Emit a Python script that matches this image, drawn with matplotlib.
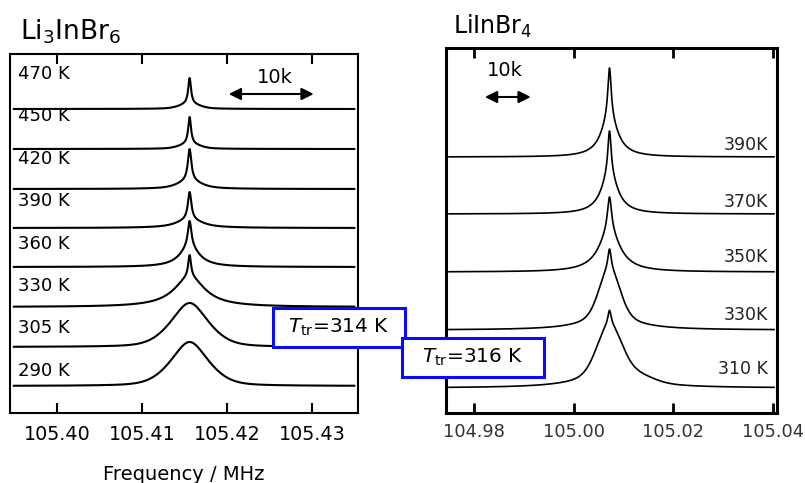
import numpy as np
import matplotlib
matplotlib.use("Agg")
import matplotlib.pyplot as plt
from matplotlib.patches import Rectangle

# ── data: line-shape parameters ──────────────────────────────────────────────
# Li3InBr6 (left panel)
left_labels = ["470 K", "450 K", "420 K", "390 K", "360 K", "330 K", "305 K", "290 K"]
left_offset = [304, 264, 224, 185, 146, 106, 66, 27]
left_center = 105.4156
left_spike_h = [26, 27, 32, 28, 26, 22, 0, 0]
left_spike_w = [0.0002, 0.0002, 0.00025, 0.00025, 0.00025, 0.0002, 0.0002, 0.0002]
left_gauss_h = [4, 4, 3, 3, 0, 0, 24, 24]
left_gauss_w = [0.0011, 0.0011, 0.0012, 0.0012, 0.001, 0.001, 0.0024, 0.0024]
left_wing_h = [1, 1, 5, 5, 20, 30, 20, 20]
left_wing_w = [0.003, 0.003, 0.002, 0.0025, 0.0014, 0.0022, 0.0022, 0.0022]
left_range = (105.3948, 105.4351)
left_ticks = [105.40, 105.41, 105.42, 105.43]

# LiInBr4 (right panel)
right_labels = ["390K", "370K", "350K", "330K", "310 K"]
right_offset = [256, 199, 141, 83, 25]
right_center = 105.0072
right_spike_h = [50, 44, 35, 21, 15]
right_spike_w = [0.0004, 0.0004, 0.0005, 0.0004, 0.0004]
right_core_h = [39, 39, 40, 0, 0]
right_core_w = [0.002, 0.002, 0.0026, 0.002, 0.002]
right_gauss_h = [0, 0, 0, 40, 42]
right_gauss_w = [0.002, 0.002, 0.002, 0.002, 0.0024]
right_wing_h = [0, 0, 0, 20, 20]
right_wing_w = [0.005, 0.005, 0.005, 0.005, 0.006]
right_shoulder_h = [0, 0, 0, 0, 5]
right_shoulder_shift = 0.006
right_shoulder_w = 0.003
right_range = (104.975, 105.0402)
right_ticks = [104.98, 105.00, 105.02, 105.04]


def lorentz(x, c, h, g):
    return h * g ** 2 / ((x - c) ** 2 + g ** 2)


def gauss(x, c, h, s):
    return h * np.exp(-0.5 * ((x - c) / s) ** 2)


fig = plt.figure(figsize=(8.05, 4.83), dpi=100, facecolor="white")

# ── left panel ──────────────────────────────────────────────────────────────
axL = fig.add_axes([10 / 805, 1 - 413 / 483, 348 / 805, 359 / 483])
x = np.linspace(*left_range, 1500)
for i in range(len(left_labels)):
    y = (left_offset[i]
         + lorentz(x, left_center, left_spike_h[i], left_spike_w[i])
         + gauss(x, left_center, left_gauss_h[i], left_gauss_w[i])
         + lorentz(x, left_center, left_wing_h[i], left_wing_w[i]))
    axL.plot(x, y, color="black", lw=1.5, solid_capstyle="butt")
    axL.text(0.023, 339 - i * 42.4, left_labels[i], transform=axL.get_yaxis_transform(),
             ha="left", va="center", fontsize=13)

axL.set_xlim(105.39447, 105.43541)
axL.set_ylim(0, 359)
axL.set_xticks(left_ticks)
axL.set_xticklabels([f"{t:.2f}" for t in left_ticks])
axL.set_yticks([])
axL.tick_params(axis="x", direction="in", top=True, length=7.5, width=1.5,
                labelsize=13.8, pad=8.5)
for sp in axL.spines.values():
    sp.set_linewidth(1.5)
axL.annotate("", xy=(105.4302, 319), xytext=(105.4202, 319),
             arrowprops=dict(arrowstyle="<|-|>,head_length=0.6,head_width=0.3",
                             color="black", lw=1.5, shrinkA=0, shrinkB=0,
                             mutation_scale=12))
axL.text(105.42565, 335.5, "10k", ha="center", va="center", fontsize=14)

# ── right panel ─────────────────────────────────────────────────────────────
axR = fig.add_axes([446 / 805, 1 - 413 / 483, 331 / 805, 365 / 483])
x = np.linspace(*right_range, 1500)
right_label_y = [268, 211, 156, 98, 44]
for i in range(len(right_labels)):
    y = (right_offset[i]
         + lorentz(x, right_center, right_spike_h[i], right_spike_w[i])
         + lorentz(x, right_center, right_core_h[i], right_core_w[i])
         + gauss(x, right_center, right_gauss_h[i], right_gauss_w[i])
         + lorentz(x, right_center, right_wing_h[i], right_wing_w[i])
         + gauss(x, right_center + right_shoulder_shift, right_shoulder_h[i],
                 right_shoulder_w))
    axR.plot(x, y, color="black", lw=1.2)
    axR.text(0.973, right_label_y[i], right_labels[i], transform=axR.get_yaxis_transform(),
             ha="right", va="center", fontsize=12.5, color="#222222")

axR.set_xlim(104.9744, 105.0408)
axR.set_ylim(0, 365)
axR.set_xticks(right_ticks)
axR.set_xticklabels([f"{t:.2f}" for t in right_ticks])
axR.set_yticks([])
axR.tick_params(axis="x", direction="in", top=True, length=7, width=2,
                labelsize=12.8, labelcolor="#333333", pad=7.5)
for sp in axR.spines.values():
    sp.set_linewidth(2.2)
axR.annotate("", xy=(104.9914, 316), xytext=(104.9822, 316),
             arrowprops=dict(arrowstyle="<|-|>,head_length=0.6,head_width=0.3",
                             color="black", lw=1.5, shrinkA=0, shrinkB=0,
                             mutation_scale=12))
axR.text(104.9862, 342.5, "10k", ha="center", va="center", fontsize=14)

# ── titles, axis label ──────────────────────────────────────────────────────
fig.text(20 / 805, 1 - 40 / 483, "Li$_3$InBr$_6$", fontsize=19, va="baseline")
fig.text(453 / 805, 1 - 34 / 483, "LiInBr$_4$", fontsize=17, va="baseline")
fig.text(184 / 805, 3 / 483, "Frequency / MHz", fontsize=14, ha="center", va="baseline")

# ── transition temperature boxes ────────────────────────────────────────────
blue = "#0a0aff"
boxes = [((273, 308, 405, 347), "$T_{\\mathrm{tr}}$=314 K"),
         ((402, 338, 544, 377), "$T_{\\mathrm{tr}}$=316 K")]
for k, ((x0, y0, x1, y1), txt) in enumerate(boxes):
    fig.patches.append(Rectangle((x0 / 805, 1 - y1 / 483), (x1 - x0) / 805, (y1 - y0) / 483,
                                 transform=fig.transFigure, facecolor="white",
                                 edgecolor=blue, lw=2.2, zorder=10 + 2 * k))
    fig.text((x0 + x1) / 2 / 805, 1 - (y0 + y1) / 2 / 483, txt, ha="center", va="center",
             fontsize=14.5, zorder=11 + 2 * k)

fig.savefig("out.png", dpi=100, facecolor="white")
